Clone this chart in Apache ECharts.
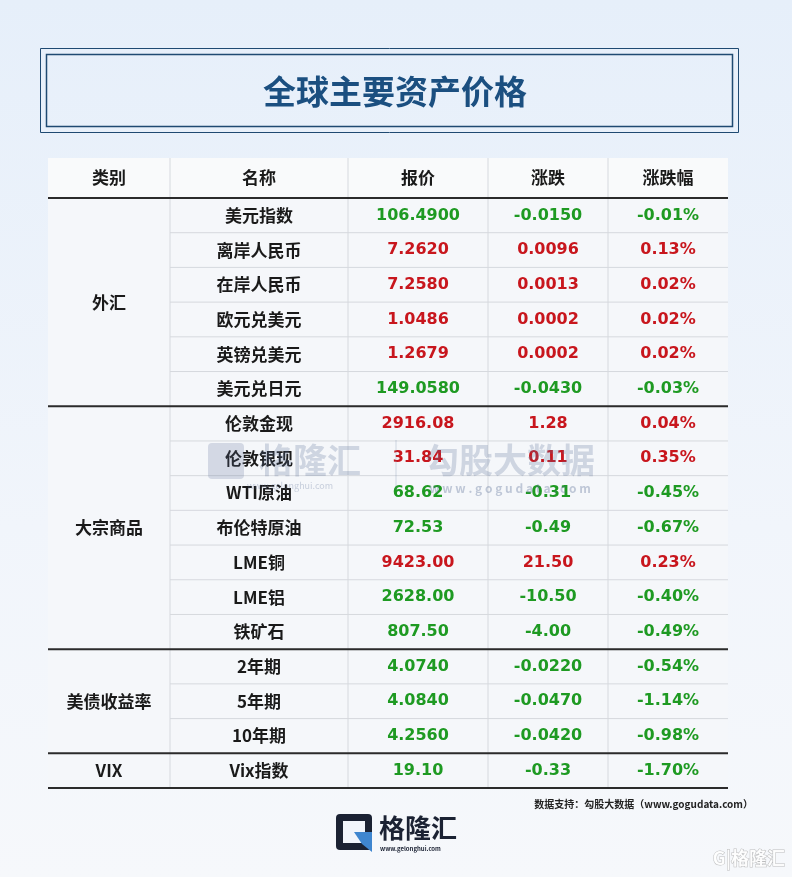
<!DOCTYPE html>
<html lang="zh">
<head>
  <meta charset="UTF-8">
  <title>全球主要资产价格</title>
  <style>
    html, body { margin: 0; height: 100%; width: 100%; }
    body { background: linear-gradient(180deg, #e6effa 0%, #f1f5fb 60%, #f6f8fb 100%); }
  </style>
</head>
<body>
  <div id="chart" style="width:792px;height:877px"></div>
  <script src="https://cdn.jsdelivr.net/npm/echarts@6/dist/echarts.min.js"></script>
  <script>
    const title = '全球主要资产价格'
    const headers = ['类别', '名称', '报价', '涨跌', '涨跌幅']
    const groups = [
      { name: '外汇', count: 6 },
      { name: '大宗商品', count: 7 },
      { name: '美债收益率', count: 3 },
      { name: 'VIX', count: 1 }
    ]
    const names = ['美元指数', '离岸人民币', '在岸人民币', '欧元兑美元', '英镑兑美元', '美元兑日元',
      '伦敦金现', '伦敦银现', 'WTI原油', '布伦特原油', 'LME铜', 'LME铝', '铁矿石',
      '2年期', '5年期', '10年期', 'Vix指数']
    const prices = ['106.4900', '7.2620', '7.2580', '1.0486', '1.2679', '149.0580',
      '2916.08', '31.84', '68.62', '72.53', '9423.00', '2628.00', '807.50',
      '4.0740', '4.0840', '4.2560', '19.10']
    const changes = ['-0.0150', '0.0096', '0.0013', '0.0002', '0.0002', '-0.0430',
      '1.28', '0.11', '-0.31', '-0.49', '21.50', '-10.50', '-4.00',
      '-0.0220', '-0.0470', '-0.0420', '-0.33']
    const pcts = ['-0.01%', '0.13%', '0.02%', '0.02%', '0.02%', '-0.03%',
      '0.04%', '0.35%', '-0.45%', '-0.67%', '0.23%', '-0.40%', '-0.49%',
      '-0.54%', '-1.14%', '-0.98%', '-1.70%']

    // layout
    const colX = [48, 170, 348, 488, 608, 728]
    const headTop = 158, headH = 40
    const rowTop = headTop + headH
    const rowH = (788 - rowTop) / names.length
    const font = '"Noto Sans CJK SC", "Noto Sans", sans-serif'
    const numFont = '"DejaVu Sans", "Noto Sans CJK SC", sans-serif'
    const green = '#1e9a22', red = '#c8161d', dark = '#1a1a1a', line = '#2b2b2b', thin = '#d6d9de'

    const g = []
    // title box
    g.push({ type: 'rect', shape: { x: 40.5, y: 48.5, width: 698, height: 84 }, style: { fill: 'transparent', stroke: '#1f4a72', lineWidth: 1 } })
    g.push({ type: 'rect', shape: { x: 46.5, y: 54.5, width: 686, height: 72 }, style: { fill: 'transparent', stroke: '#1f4a72', lineWidth: 1.5 } })
    g.push({ type: 'text', x: 395, y: 91, style: { text: title, fill: '#1b4f80', font: 'bold 33px ' + font, align: 'center', verticalAlign: 'middle' } })

    // table background
    g.push({ type: 'rect', shape: { x: colX[0], y: headTop, width: colX[5] - colX[0], height: 788 - headTop }, style: { fill: '#f5f7fa' } })
    g.push({ type: 'rect', shape: { x: colX[0], y: headTop, width: colX[5] - colX[0], height: headH }, style: { fill: '#f9fafb' } })

    // vertical lines
    for (let i = 1; i < 5; i++) {
      g.push({ type: 'line', shape: { x1: colX[i], y1: headTop, x2: colX[i], y2: 788 }, style: { stroke: thin, lineWidth: 1 } })
    }
    // headers
    headers.forEach((h, i) => {
      g.push({ type: 'text', x: (colX[i] + colX[i + 1]) / 2, y: headTop + headH / 2, style: { text: h, fill: dark, font: 'bold 17px ' + font, align: 'center', verticalAlign: 'middle' } })
    })
    // rows
    names.forEach((n, r) => {
      const y = rowTop + r * rowH
      const cy = y + rowH / 2
      if (r > 0) g.push({ type: 'line', shape: { x1: colX[1], y1: y, x2: colX[5], y2: y }, style: { stroke: thin, lineWidth: 1 } })
      const col = changes[r].startsWith('-') ? green : red
      const cells = [n, prices[r], changes[r], pcts[r]]
      cells.forEach((t, c) => {
        g.push({ type: 'text', x: (colX[c + 1] + colX[c + 2]) / 2, y: cy, z: 5, style: { text: t, fill: c === 0 ? dark : col, font: c === 0 ? 'bold 17px ' + font : 'bold 16px ' + numFont, align: 'center', verticalAlign: 'middle' } })
      })
    })
    // groups
    let start = 0
    g.push({ type: 'line', shape: { x1: colX[0], y1: rowTop, x2: colX[5], y2: rowTop }, style: { stroke: line, lineWidth: 2 } })
    groups.forEach(gr => {
      const y1 = rowTop + start * rowH, y2 = rowTop + (start + gr.count) * rowH
      g.push({ type: 'text', x: (colX[0] + colX[1]) / 2, y: (y1 + y2) / 2, style: { text: gr.name, fill: dark, font: 'bold 17px ' + font, align: 'center', verticalAlign: 'middle' } })
      g.push({ type: 'line', shape: { x1: colX[0], y1: y2, x2: colX[5], y2: y2 }, style: { stroke: line, lineWidth: 2 } })
      start += gr.count
    })

    // watermark
    g.push({ type: 'text', x: 310, y: 460, z: 10, style: { text: '格隆汇', fill: 'rgba(90,110,150,0.25)', font: 'bold 34px ' + font, align: 'center', verticalAlign: 'middle' } })
    g.push({ type: 'rect', z: 10, shape: { x: 208, y: 443, width: 36, height: 36, r: 4 }, style: { fill: 'rgba(90,110,150,0.22)' } })
    g.push({ type: 'line', z: 10, shape: { x1: 396, y1: 440, x2: 396, y2: 490 }, style: { stroke: 'rgba(90,110,150,0.25)', lineWidth: 1 } })
    g.push({ type: 'text', x: 510, y: 460, z: 10, style: { text: '勾股大数据', fill: 'rgba(90,110,150,0.25)', font: 'bold 34px ' + font, align: 'center', verticalAlign: 'middle' } })
    g.push({ type: 'text', x: 510, y: 488, z: 10, style: { text: 'w w w . g o g u d a t a . c o m', fill: 'rgba(90,110,150,0.35)', font: 'bold 12px ' + font, align: 'center', verticalAlign: 'middle' } })
    g.push({ type: 'text', x: 290, y: 486, z: 10, style: { text: 'www.gelonghui.com', fill: 'rgba(90,110,150,0.3)', font: '9px ' + font, align: 'center', verticalAlign: 'middle' } })

    // source
    g.push({ type: 'text', x: 753, y: 804, style: { text: '数据支持：勾股大数据（www.gogudata.com）', fill: '#222', font: 'bold 10px ' + font, align: 'right', verticalAlign: 'middle' } })

    // logo
    g.push({ type: 'rect', shape: { x: 336, y: 814, width: 36, height: 36, r: 4 }, style: { fill: '#1b2233' } })
    g.push({ type: 'rect', shape: { x: 343, y: 821, width: 22, height: 22 }, style: { fill: '#f1f5fb' } })
    g.push({ type: 'polygon', shape: { points: [[354, 832], [372, 832], [372, 852], [362, 844]] }, style: { fill: '#3f86cf' } })
    g.push({ type: 'text', x: 379, y: 828, style: { text: '格隆汇', fill: '#1b2233', font: 'bold 26px ' + font, align: 'left', verticalAlign: 'middle' } })
    g.push({ type: 'text', x: 380, y: 849, style: { text: 'www.gelonghui.com', fill: '#1b2233', font: 'bold 6px ' + font, align: 'left', verticalAlign: 'middle' } })
    g.push({ type: 'text', x: 785, y: 858, style: { text: 'G|格隆汇', fill: 'rgba(255,255,255,0.9)', stroke: 'rgba(150,150,150,0.6)', lineWidth: 1, font: 'bold 18px ' + font, align: 'right', verticalAlign: 'middle' } })

    const myChart = echarts.init(document.getElementById('chart'))
    myChart.setOption({ animation: false, graphic: g })
  </script>
</body>
</html>
